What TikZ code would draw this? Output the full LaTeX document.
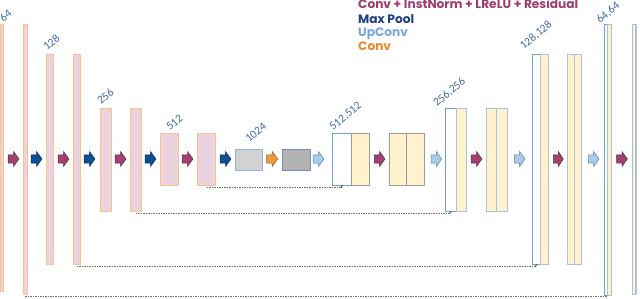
\documentclass[tikz,border=0pt]{standalone}
\usepackage{fontspec}
\setmainfont{Carlito}
\newfontfamily\legfont{Poppins}
\usetikzlibrary{fit,arrows.meta,calc}
\definecolor{encF}{HTML}{EAD3DE}
\definecolor{encB}{HTML}{F7C58A}
\definecolor{yelF}{HTML}{FFF2CC}
\definecolor{yelB}{HTML}{A9C2DF}
\definecolor{yelG}{HTML}{9A9A9A}
\definecolor{whB}{HTML}{6F9EDB}
\definecolor{gryA}{HTML}{D2D2D2}
\definecolor{gryB}{HTML}{B3B3B3}
\definecolor{gryE}{HTML}{8FB2DC}
\definecolor{magF}{HTML}{A3406F}
\definecolor{magD}{HTML}{5A2A40}
\definecolor{poolF}{HTML}{0D4F91}
\definecolor{poolD}{HTML}{0A2F55}
\definecolor{upF}{HTML}{A9CBEA}
\definecolor{upD}{HTML}{5F7FA0}
\definecolor{convF}{HTML}{F0993A}
\definecolor{convD}{HTML}{8A5A20}
\definecolor{legM}{HTML}{9E3D6E}
\definecolor{legN}{HTML}{1F3F7F}
\definecolor{legU}{HTML}{7AA7DE}
\definecolor{legO}{HTML}{EC8A2B}
\definecolor{labC}{HTML}{4668A0}
\definecolor{skipC}{HTML}{6E6E6E}
\newcommand\ubox[6]{\node[#6, fit={(#2,#3) (#4,#5)}] (#1) {};}
\newcommand\blkarrow[3]{%
  \pgfmathsetmacro\uaa{#1}\pgfmathsetmacro\umm{#1+0.5*(#2-#1)}%
  \draw[#3] (\uaa,154.8) -- (\umm,154.8) -- (\umm,151.5) -- (#2,159) -- (\umm,166.5) -- (\umm,163.2) -- (\uaa,163.2) -- cycle;}
\begin{document}
\begin{tikzpicture}[x=1pt,y=-1pt,
  bxbase/.style={inner sep=0pt, outer sep=0pt, minimum size=0pt, line width=0.7pt},
  enc/.style={bxbase, draw=encB, fill=encF},
  wht/.style={bxbase, draw=whB, fill=white},
  yel/.style={bxbase, draw=yelB, fill=yelF},
  yelg/.style={bxbase, draw=yelG, fill=yelF},
  gra/.style={bxbase, draw=gryE, fill=gryA},
  grb/.style={bxbase, draw=gryE!80!black, fill=gryB},
  mag/.style={fill=magF, draw=magD, line width=0.5pt},
  pool/.style={fill=poolF, draw=poolD, line width=0.5pt},
  upc/.style={fill=upF, draw=upD, line width=0.5pt},
  cnv/.style={fill=convF, draw=convD, line width=0.5pt},
  skip/.style={draw=skipC, line width=0.8pt, dash pattern=on 1.5pt off 1pt, -{Stealth[length=2.2pt,width=2.6pt]}},
  lab/.style={text=labC, rotate=40, anchor=base west, inner sep=0pt, font=\fontsize{11.5}{13}\selectfont},
  leg/.style={anchor=base west, inner sep=0pt, font=\legfont\bfseries\fontsize{12.2}{14}\selectfont}]
\useasboundingbox (0,0) rectangle (640,299);
% encoder
\ubox{e1}{0}{24}{3.5}{291}{enc}
\ubox{e2}{23}{24}{27}{294}{enc}
\ubox{e3}{46}{54}{53}{264}{enc}
\ubox{e4}{73}{54}{80}{264}{enc}
\ubox{e5}{100}{108}{111}{211}{enc}
\ubox{e6}{130}{108}{141}{211}{enc}
\ubox{e7}{160}{133}{178}{185}{enc}
\ubox{e8}{197.7}{133}{215.7}{185}{enc}
% bottleneck
\ubox{b1}{235}{149}{262.7}{170}{gra}
\ubox{b2}{282}{149}{310}{170}{grb}
% decoder
\ubox{d1w}{332.3}{133}{351}{185}{wht}
\ubox{d1y}{351}{133}{369.3}{185}{yelg}
\ubox{d2a}{389}{133}{406.7}{185}{yelg}
\ubox{d2b}{406.7}{133}{424.3}{185}{yelg}
\ubox{d3w}{445}{108}{456}{211}{wht}
\ubox{d3y}{456}{108}{466.7}{211}{yel}
\ubox{d4a}{486}{108}{496.7}{211}{yel}
\ubox{d4b}{496.7}{108}{507.7}{211}{yel}
\ubox{d5w}{532.3}{54}{540}{264}{wht}
\ubox{d5y}{540}{54}{548.3}{264}{yel}
\ubox{d6a}{567.7}{54}{574.3}{264}{yel}
\ubox{d6b}{574.3}{54}{581.7}{264}{yel}
\ubox{d7w}{604.3}{24}{607.7}{295}{wht}
\ubox{d7y}{607.7}{24}{611.7}{295}{yel}
\ubox{d8a}{632.3}{24}{635}{294}{yel}
\ubox{d8b}{635}{24}{636.7}{294}{yel}
% block arrows
\blkarrow{8}{19}{mag}
\blkarrow{31}{42}{pool}
\blkarrow{58}{69}{mag}
\blkarrow{84}{95}{pool}
\blkarrow{115}{126}{mag}
\blkarrow{145}{156}{pool}
\blkarrow{182}{193}{mag}
\blkarrow{220}{231}{pool}
\blkarrow{266.7}{277.7}{cnv}
\blkarrow{313}{324}{upc}
\blkarrow{374.3}{385}{mag}
\blkarrow{431}{441.7}{upc}
\blkarrow{471}{482}{mag}
\blkarrow{514.3}{525}{upc}
\blkarrow{553.3}{563.3}{mag}
\blkarrow{588.3}{599}{upc}
\blkarrow{616.7}{627.3}{mag}
% skip connections
\draw[skip] ($(e8.south)+(0,2.7)$) -| (d1w.south);
\draw[skip] ($(e6.south)+(0,2.2)$) -| (d3w.south);
\draw[skip] ($(e4.south)+(0,2.7)$) -| (d5w.south);
\draw[skip] ($(e2.south)+(0,2.7)$) -| (d7w.south);
% size labels
\node[lab] (l64) at (3.5,22.5) {64};
\node[lab] (l128) at (47,51) {128};
\node[lab] (l256) at (101,105) {256};
\node[lab] (l512) at (170,131) {512};
\node[lab] (l1024) at (249,143) {1024};
\node[lab] (l512b) at (333,131) {512,512};
\node[lab] (l256b) at (437,107) {256,256};
\node[lab] (l128b) at (523.5,50) {128,128};
\node[lab] (l64b) at (600,24) {64,64};
% legend
\node[leg, text=legM] (g1) at (358,8.5) {Conv + InstNorm + LReLU + Residual};
\node[leg, text=legN] (g2) at (358,23.3) {Max Pool};
\node[leg, text=legU] (g3) at (358,36.8) {UpConv};
\node[leg, text=legO] (g4) at (358,50.2) {Conv};
\end{tikzpicture}
\end{document}
